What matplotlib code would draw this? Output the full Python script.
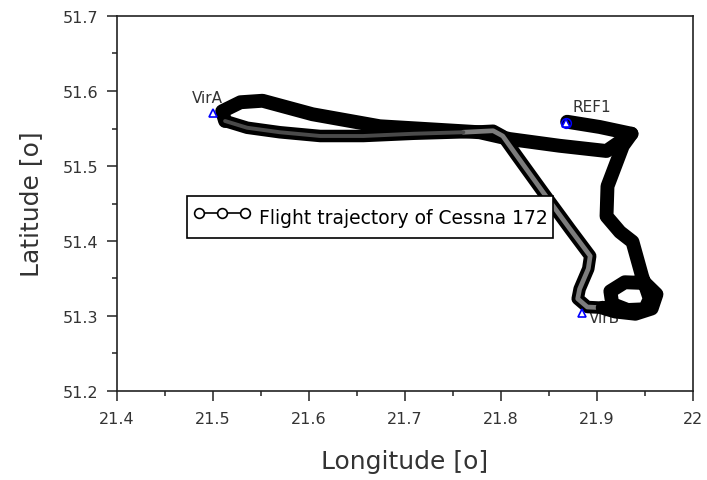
import matplotlib
matplotlib.use("Agg")
import matplotlib.pyplot as plt
from matplotlib.lines import Line2D
from matplotlib.ticker import MultipleLocator

plt.rcParams['font.family'] = ['DejaVu Sans']

# Trajectory pieces (lon, lat)
# 1) REF1 -> east -> down the right side -> loop near VirB (solid black)
lon_a = [21.869, 21.903, 21.936, 21.927, 21.919, 21.911, 21.910, 21.924, 21.937,
         21.947, 21.955, 21.950, 21.932, 21.916, 21.914, 21.929, 21.950, 21.962,
         21.957, 21.940, 21.919, 21.906]
lat_a = [51.559, 51.552, 51.543, 51.527, 51.500, 51.473, 51.433, 51.412, 51.399,
         51.353, 51.323, 51.309, 51.308, 51.316, 51.333, 51.345, 51.344, 51.329,
         51.310, 51.303, 51.306, 51.311]
# 2) back north-west up the diagonal and west to VirA (grey centre)
lon_b = [21.906, 21.890, 21.880, 21.882, 21.891, 21.893, 21.872, 21.844, 21.817,
         21.802, 21.792, 21.761, 21.709, 21.657, 21.612, 21.570, 21.536, 21.513]
lat_b = [51.311, 51.312, 51.323, 51.336, 51.363, 51.380, 51.416, 51.465, 51.513,
         51.540, 51.547, 51.545, 51.543, 51.540, 51.540, 51.545, 51.551, 51.560]
# 3) loop round VirA and back east (solid black)
lon_c = [21.513, 21.510, 21.529, 21.552, 21.604, 21.674, 21.726, 21.778, 21.809,
         21.861, 21.910, 21.936]
lat_c = [51.560, 51.573, 51.585, 51.587, 51.569, 51.553, 51.549, 51.545, 51.536,
         51.527, 51.520, 51.543]

# Reference points
pt_names = ["VirA", "REF1", "VirB"]
pt_lon = [21.500, 21.868, 21.884]
pt_lat = [51.571, 51.558, 51.304]

xticks = [21.4, 21.5, 21.6, 21.7, 21.8, 21.9, 22.0]
xticklabels = ["21.4", "21.5", "21.6", "21.7", "21.8", "21.9", "22"]
yticks = [51.2, 51.3, 51.4, 51.5, 51.6, 51.7]

fig = plt.figure(figsize=(7.07, 4.81), dpi=100)
ax = fig.add_axes([116.5/707, 1-392/481, 576.5/707, 375/481])

txtc = '#333333'
band = 10.0
# labels (drawn beneath trajectory)
ax.annotate(pt_names[0], (pt_lon[0], pt_lat[0]), xytext=(-15, 7.5), textcoords='offset points',
            fontsize=11, color=txtc, zorder=1)
ax.annotate(pt_names[1], (pt_lon[1], pt_lat[1]), xytext=(4.5, 8), textcoords='offset points',
            fontsize=11, color=txtc, zorder=1)
ax.annotate(pt_names[2], (pt_lon[2], pt_lat[2]), xytext=(5.5, -6.5), textcoords='offset points',
            fontsize=11, color=txtc, zorder=1)

kw = dict(solid_capstyle='round', solid_joinstyle='round')
ax.plot(lon_c, lat_c, color='black', lw=band, zorder=3, **kw)
ax.plot(lon_b, lat_b, color='black', lw=9.0, zorder=3, **kw)
ax.plot(lon_b[:12], lat_b[:12], color='#7c7c7c', lw=3.4, zorder=4, **kw)
ax.plot(lon_b[11:], lat_b[11:], color='#4a4a4a', lw=2.8, zorder=4, **kw)
ax.plot(lon_a, lat_a, color='black', lw=band, zorder=5, **kw)

# point markers
ax.plot(pt_lon, pt_lat, ls='none', marker='^', ms=5.5, mfc='white', mec='blue', mew=1.2, zorder=7)
ax.plot([pt_lon[1]], [pt_lat[1]], ls='none', marker='o', ms=7, mfc='none', mec='blue', mew=1.1, zorder=7)

ax.set_xlim(21.4, 22.0)
ax.set_ylim(51.2, 51.7)
ax.set_xticks(xticks)
ax.set_xticklabels(xticklabels)
ax.set_yticks(yticks)
ax.xaxis.set_minor_locator(MultipleLocator(0.05))
ax.yaxis.set_minor_locator(MultipleLocator(0.05))
ax.tick_params(which='major', direction='out', length=7.2, width=1.1, pad=6,
               labelsize=11.5, labelcolor=txtc, color='#222222')
ax.tick_params(axis='x', which='major', pad=7.5)
ax.tick_params(which='minor', direction='out', length=3.4, width=1.1, color='#222222')
for s in ax.spines.values():
    s.set_linewidth(1.2)
    s.set_color('#222222')

ax.set_xlabel("Longitude [o]", fontsize=18, color=txtc, labelpad=16)
ax.set_ylabel("Latitude [o]", fontsize=18, color=txtc, labelpad=14)

handle = Line2D([], [], color='black', lw=1.2, marker='o', ms=7, mfc='white', mec='black', mew=1.2)
leg = ax.legend([handle], ["Flight trajectory of Cessna 172"], loc='upper left',
                bbox_to_anchor=(0.1223, 0.52), borderaxespad=0, numpoints=3,
                handlelength=3.05, handleheight=2.1, handletextpad=0.45, borderpad=0.32,
                fancybox=False, edgecolor='black', framealpha=1,
                prop={'size': 13.5})
leg.get_frame().set_linewidth(1.2)
leg.set_zorder(10)
for t in leg.get_texts():
    t.set_color('black')

fig.savefig("out.png", dpi=100)
